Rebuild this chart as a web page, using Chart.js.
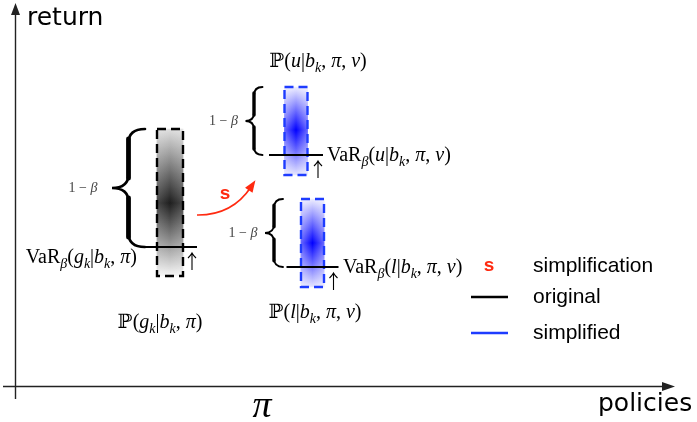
<!DOCTYPE html>
<html>
<head>
<meta charset="utf-8">
<script src="https://cdn.jsdelivr.net/npm/chart.js@4"></script>
<style>
    html, body { margin: 0; padding: 0; background: #fff; }
    #wrap { width: 697px; height: 422px; }
</style>
</head>
<body>
<div id="wrap"><canvas id="riskChart" width="697" height="422"></canvas></div>
<script>
// --- data (x = policy position, y = return) ---
const distNames = ['original', 'upper', 'lower'];
const distX     = [170, 296, 312.5];
const distLow   = [146, 247, 135];
const distHigh  = [293, 335, 223];
const distMode  = [219, 292, 179];
const distVaR   = [175, 267, 155];

// --- styling per distribution ---
const rectW     = [26, 23, 23];
const varHalf   = [27, 27, 26];
const braceGap  = [45, 39, 36];   // brace tip left of rect
const braceW    = [33, 17, 18];
const blue = '#1e3cff';
const red = '#ff2a10';

const mathFam = '"Liberation Serif", "DejaVu Serif", serif';

function fillFor(context) {
    const chart = context.chart;
    const y = chart.scales.y;
    const raw = context.raw;
    if (!y || !raw) return 'rgba(0,0,0,0)';
    const k = raw.k;
    const top = y.getPixelForValue(distHigh[k]);
    const bot = y.getPixelForValue(distLow[k]);
    const mid = y.getPixelForValue(distMode[k]);
    if (![top, bot, mid].every(Number.isFinite) || bot === top) {
        return k === 0 ? '#555' : blue;
    }
    const g = chart.ctx.createLinearGradient(0, top, 0, bot);
    const f = Math.min(0.99, Math.max(0.01, (mid - top) / (bot - top)));
    if (k === 0) {
        g.addColorStop(0, 'rgb(224,224,224)');
        g.addColorStop(f, 'rgb(30,30,30)');
        g.addColorStop(1, 'rgb(246,246,246)');
    } else {
        g.addColorStop(0, 'rgb(238,238,255)');
        g.addColorStop(f, 'rgb(0,0,255)');
        g.addColorStop(1, 'rgb(230,230,255)');
    }
    return g;
}

// soft sideways fade laid over each box
function sheenFor(context) {
    const chart = context.chart;
    const x = chart.scales.x;
    const raw = context.raw;
    if (!x || !raw) return 'rgba(0,0,0,0)';
    const k = raw.k;
    const l = x.getPixelForValue(distX[k] - rectW[k] / 2);
    const r = x.getPixelForValue(distX[k] + rectW[k] / 2);
    if (![l, r].every(Number.isFinite) || l === r) return 'rgba(0,0,0,0)';
    const g = chart.ctx.createLinearGradient(l, 0, r, 0);
    const a = k === 0 ? 0.18 : 0.4;
    g.addColorStop(0, 'rgba(255,255,255,' + a + ')');
    g.addColorStop(0.5, 'rgba(255,255,255,0)');
    g.addColorStop(1, 'rgba(255,255,255,' + a + ')');
    return g;
}

function outline(k) {
    const h = rectW[k] / 2;
    return [
        { x: distX[k] - h, y: distHigh[k] },
        { x: distX[k] + h, y: distHigh[k] },
        { x: distX[k] + h, y: distLow[k] },
        { x: distX[k] - h, y: distLow[k] },
        { x: distX[k] - h, y: distHigh[k] }
    ];
}

function varLine(k) {
    return [
        { x: distX[k] - varHalf[k], y: distVaR[k] },
        { x: distX[k] + varHalf[k], y: distVaR[k] }
    ];
}

const datasets = [];
distNames.forEach((name, k) => {
    datasets.push({
        type: 'line', label: 'VaR ' + name, data: varLine(k),
        borderColor: '#000', borderWidth: 2, pointRadius: 0, fill: false, order: 1
    });
    datasets.push({
        type: 'line', label: 'box ' + name, data: outline(k),
        borderColor: k === 0 ? '#000' : blue, borderWidth: 2.4, borderDash: [9, 5],
        pointRadius: 0, fill: false, tension: 0, order: 2
    });
});
const boxData = distNames.map((n, k) => ({ x: distX[k], y: [distLow[k], distHigh[k]], k: k }));
datasets.push({
    type: 'bar', label: 'original', grouped: false, barThickness: rectW[0], order: 4,
    data: boxData.slice(0, 1), backgroundColor: fillFor, borderWidth: 0
});
datasets.push({
    type: 'bar', label: 'simplified', grouped: false, barThickness: rectW[1], order: 4,
    data: boxData.slice(1), backgroundColor: fillFor, borderWidth: 0
});
datasets.push({
    type: 'bar', label: 'sheen original', grouped: false, barThickness: rectW[0], order: 3,
    data: boxData.slice(0, 1), backgroundColor: sheenFor, borderWidth: 0
});
datasets.push({
    type: 'bar', label: 'sheen simplified', grouped: false, barThickness: rectW[1], order: 3,
    data: boxData.slice(1), backgroundColor: sheenFor, borderWidth: 0
});

// small TeX-ish text helper: parts are [text, style] with r / i / s (subscript)
function drawMath(ctx, parts, x, y, size, align) {
    const fontOf = st => (st === 'i' || st === 's' ? 'italic ' : '') +
        (st === 's' ? Math.round(size * 0.7) : size) + 'px ' + mathFam;
    let w = 0;
    parts.forEach(([t, st]) => { ctx.font = fontOf(st); w += ctx.measureText(t).width; });
    let cx = align === 'center' ? x - w / 2 : align === 'right' ? x - w : x;
    ctx.textAlign = 'left';
    ctx.textBaseline = 'alphabetic';
    parts.forEach(([t, st]) => {
        ctx.font = fontOf(st);
        ctx.fillText(t, cx, st === 's' ? y + size * 0.25 : y);
        cx += ctx.measureText(t).width;
    });
}

function brace(ctx, x, y0, y1, w, thick) {
    const ym = (y0 + y1) / 2, a = x + w / 2, r = Math.min(w / 2, 14);
    ctx.save();
    ctx.strokeStyle = '#000';
    ctx.lineCap = 'round';
    ctx.lineWidth = thick * 0.55;
    ctx.beginPath();
    ctx.moveTo(x + w, y0);
    ctx.quadraticCurveTo(a, y0, a, y0 + r);
    ctx.lineTo(a, ym - r);
    ctx.quadraticCurveTo(a, ym, x, ym);
    ctx.quadraticCurveTo(a, ym, a, ym + r);
    ctx.lineTo(a, y1 - r);
    ctx.quadraticCurveTo(a, y1, x + w, y1);
    ctx.stroke();
    ctx.lineWidth = thick;
    ctx.beginPath();
    ctx.moveTo(a, y0 + r * 0.7); ctx.lineTo(a, ym - r * 0.7);
    ctx.moveTo(a, ym + r * 0.7); ctx.lineTo(a, y1 - r * 0.7);
    ctx.stroke();
    ctx.restore();
}

function upArrow(ctx, x, y0, len) {
    ctx.save();
    ctx.strokeStyle = '#000';
    ctx.lineWidth = 1.1;
    ctx.beginPath();
    ctx.moveTo(x, y0 + len); ctx.lineTo(x, y0);
    ctx.moveTo(x - 4, y0 + 5); ctx.quadraticCurveTo(x - 1, y0 + 2, x, y0);
    ctx.quadraticCurveTo(x + 1, y0 + 2, x + 4, y0 + 5);
    ctx.stroke();
    ctx.restore();
}

function oneMinusBeta(ctx, cx, y) {
    ctx.save();
    ctx.fillStyle = '#444';
    drawMath(ctx, [['1 \u2212 ', 'r'], ['\u03b2', 'i']], cx, y, 14, 'center');
    ctx.restore();
}

const labelsVaR = [
    [['VaR', 'r'], ['\u03b2', 's'], ['(', 'r'], ['g', 'i'], ['k', 's'], ['|', 'r'], ['b', 'i'], ['k', 's'], [', ', 'r'], ['\u03c0', 'i'], [')', 'r']],
    [['VaR', 'r'], ['\u03b2', 's'], ['(', 'r'], ['u', 'i'], ['|', 'r'], ['b', 'i'], ['k', 's'], [', ', 'r'], ['\u03c0', 'i'], [', ', 'r'], ['\u03bd', 'i'], [')', 'r']],
    [['VaR', 'r'], ['\u03b2', 's'], ['(', 'r'], ['l', 'i'], ['|', 'r'], ['b', 'i'], ['k', 's'], [', ', 'r'], ['\u03c0', 'i'], [', ', 'r'], ['\u03bd', 'i'], [')', 'r']]
];
const labelsP = [
    [['\u2119(', 'r'], ['g', 'i'], ['k', 's'], ['|', 'r'], ['b', 'i'], ['k', 's'], [', ', 'r'], ['\u03c0', 'i'], [')', 'r']],
    [['\u2119(', 'r'], ['u', 'i'], ['|', 'r'], ['b', 'i'], ['k', 's'], [', ', 'r'], ['\u03c0', 'i'], [', ', 'r'], ['\u03bd', 'i'], [')', 'r']],
    [['\u2119(', 'r'], ['l', 'i'], ['|', 'r'], ['b', 'i'], ['k', 's'], [', ', 'r'], ['\u03c0', 'i'], [', ', 'r'], ['\u03bd', 'i'], [')', 'r']]
];

const diagramPlugin = {
    id: 'diagram',
    beforeDatasetsDraw(chart) {
        const ctx = chart.ctx;
        const xs = chart.scales.x, ys = chart.scales.y;
        const ox = xs.getPixelForValue(15.5), oy = ys.getPixelForValue(35.5);
        ctx.save();
        ctx.strokeStyle = '#222';
        ctx.fillStyle = '#222';
        ctx.lineWidth = 1.4;
        ctx.beginPath();
        ctx.moveTo(ox, 399); ctx.lineTo(ox, 12);
        ctx.moveTo(3, oy); ctx.lineTo(664, oy);
        ctx.stroke();
        ctx.beginPath();
        ctx.moveTo(ox, 3); ctx.lineTo(ox - 4.5, 15); ctx.lineTo(ox + 4.5, 15); ctx.closePath();
        ctx.moveTo(675, oy); ctx.lineTo(662, oy - 4.5); ctx.lineTo(662, oy + 4.5); ctx.closePath();
        ctx.fill();
        ctx.fillStyle = '#000';
        ctx.font = '25px "DejaVu Sans", sans-serif';
        ctx.textBaseline = 'alphabetic';
        ctx.textAlign = 'left';
        ctx.fillText('return', 27, 25);
        ctx.fillText('policies', 598, 411);
        ctx.font = 'italic 38px ' + mathFam;
        ctx.textAlign = 'center';
        ctx.fillText('\u03c0', 262, 417);
        ctx.restore();
    },
    afterDatasetsDraw(chart) {
        const ctx = chart.ctx;
        const xs = chart.scales.x, ys = chart.scales.y;
        ctx.save();
        ctx.fillStyle = '#000';
        distNames.forEach((name, k) => {
            const px = xs.getPixelForValue(distX[k]);
            const pHi = ys.getPixelForValue(distHigh[k]);
            const pLo = ys.getPixelForValue(distLow[k]);
            const pVaR = ys.getPixelForValue(distVaR[k]);
            const left = px - rectW[k] / 2;
            const tip = left - braceGap[k];
            brace(ctx, tip, pHi, pVaR, braceW[k], k === 0 ? 4.8 : 3.4);
            oneMinusBeta(ctx, tip - (k === 0 ? 29 : 22), (pHi + pVaR) / 2 + 4);
            upArrow(ctx, px + varHalf[k] - 5, pVaR + 6, 17);
            ctx.fillStyle = '#000';
            if (k === 0) {
                drawMath(ctx, labelsVaR[k], px - 33, pVaR + 16, 20, 'right');
                drawMath(ctx, labelsP[k], px - 10, pLo + 52, 20, 'center');
            } else if (k === 1) {
                drawMath(ctx, labelsVaR[k], px + 31, pVaR + 6, 20, 'left');
                drawMath(ctx, labelsP[k], px + 22, pHi - 20, 20, 'center');
            } else {
                drawMath(ctx, labelsVaR[k], px + 30.5, pVaR + 6, 20, 'left');
                drawMath(ctx, labelsP[k], px + 2.5, pLo + 31, 20, 'center');
            }
        });

        // red "simplification" arrow from original to simplified
        const sx = xs.getPixelForValue(197), sy = ys.getPixelForValue(207);
        const cx = xs.getPixelForValue(232), cy = ys.getPixelForValue(206.5);
        const ex = xs.getPixelForValue(251), ey = ys.getPixelForValue(235);
        ctx.strokeStyle = red;
        ctx.fillStyle = red;
        ctx.lineWidth = 1.6;
        ctx.beginPath();
        ctx.moveTo(sx, sy);
        ctx.quadraticCurveTo(cx, cy, ex, ey);
        ctx.stroke();
        const ang = Math.atan2(ey - cy, ex - cx);
        const tx = ex + 8 * Math.cos(ang), ty = ey + 8 * Math.sin(ang);
        ctx.beginPath();
        ctx.moveTo(tx, ty);
        ctx.lineTo(tx - 12 * Math.cos(ang) + 4.5 * Math.sin(ang), ty - 12 * Math.sin(ang) - 4.5 * Math.cos(ang));
        ctx.lineTo(tx - 12 * Math.cos(ang) - 4.5 * Math.sin(ang), ty - 12 * Math.sin(ang) + 4.5 * Math.cos(ang));
        ctx.closePath();
        ctx.fill();
        ctx.font = 'bold 19px "Liberation Sans", Arial, sans-serif';
        ctx.textAlign = 'center';
        ctx.textBaseline = 'alphabetic';
        ctx.fillText('s', 225, 199);

        // legend
        ctx.fillText('s', 489, 271);
        ctx.lineWidth = 2.4;
        ctx.strokeStyle = '#000';
        ctx.beginPath(); ctx.moveTo(471, 297); ctx.lineTo(508, 297); ctx.stroke();
        ctx.strokeStyle = blue;
        ctx.beginPath(); ctx.moveTo(471, 333); ctx.lineTo(508, 333); ctx.stroke();
        ctx.fillStyle = '#000';
        ctx.font = '21px "Liberation Sans", Arial, sans-serif';
        ctx.textAlign = 'left';
        ctx.fillText('simplification', 533, 272);
        ctx.fillText('original', 533, 303);
        ctx.fillText('simplified', 533, 339);
        ctx.restore();
    }
};

const riskChart = new Chart(document.getElementById('riskChart'), {
    type: 'bar',
    data: { datasets: datasets },
    options: {
        responsive: false,
        animation: false,
        layout: { padding: 0 },
        plugins: { legend: { display: false }, tooltip: { enabled: false } },
        scales: {
            x: { type: 'linear', min: 0, max: 697, display: false, offset: false },
            y: { type: 'linear', min: 0, max: 422, display: false, beginAtZero: true }
        }
    },
    plugins: [diagramPlugin]
});
</script>
</body>
</html>
